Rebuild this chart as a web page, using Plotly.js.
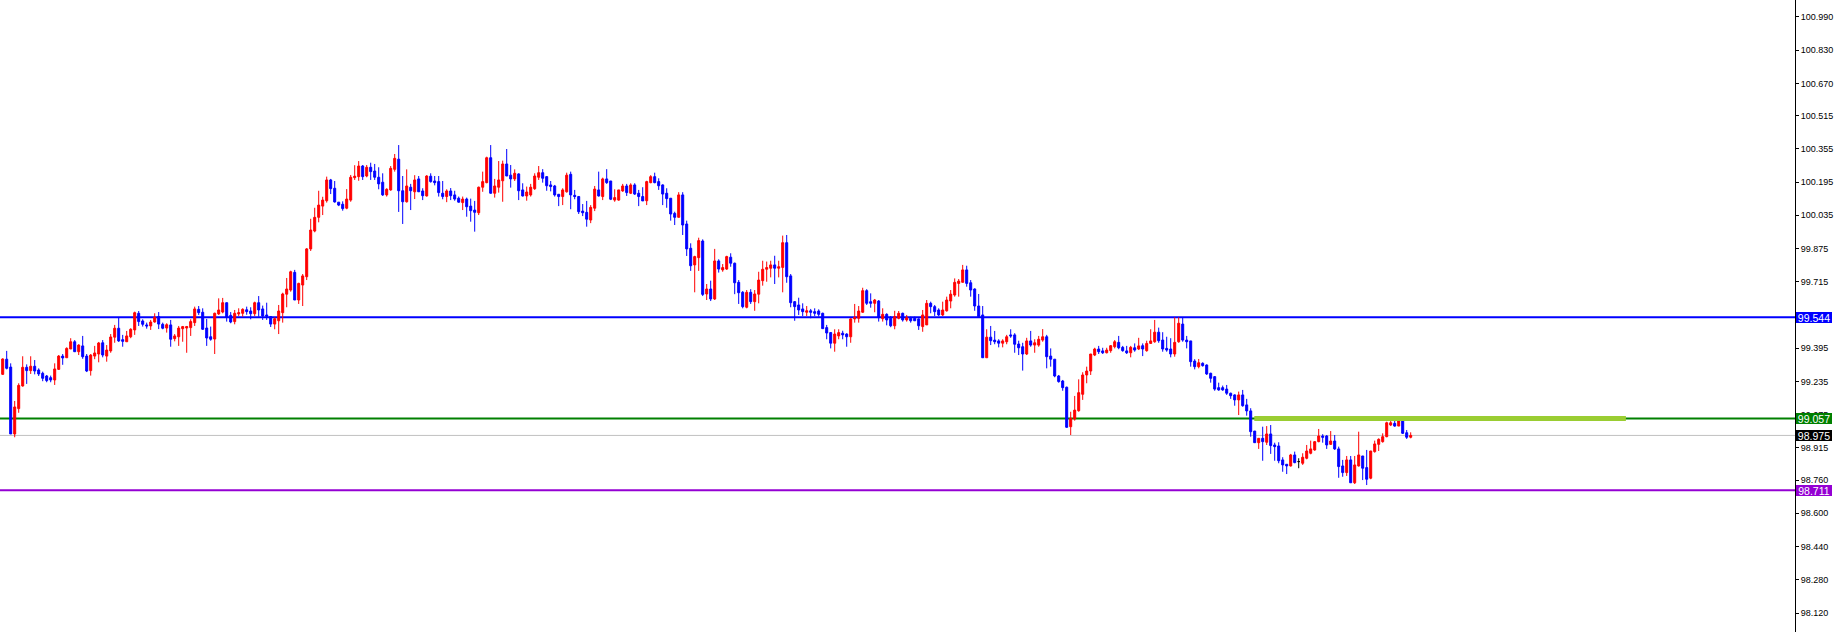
<!DOCTYPE html>
<html>
<head>
<meta charset="utf-8">
<script src="https://cdn.plot.ly/plotly-3.0.1.min.js"></script>
<style>
html,body{margin:0;padding:0;background:#ffffff;overflow:hidden}
#chart{width:1836px;height:632px}
</style>
</head>
<body>
<div id="chart"></div>
<script>
// ---- candle data (one value per bar, oldest first) ----
const openP = [
99.269,99.342,99.304,98.982,99.104,99.213,99.303,99.287,99.308,99.290,
99.274,99.261,99.253,99.242,99.293,99.357,99.349,99.391,99.426,99.378,
99.406,99.357,99.287,99.357,99.367,99.421,99.357,99.382,99.448,99.491,
99.436,99.426,99.450,99.483,99.563,99.526,99.507,99.502,99.521,99.547,
99.510,99.492,99.507,99.441,99.450,99.489,99.492,99.494,99.518,99.582,
99.568,99.492,99.450,99.439,99.560,99.569,99.614,99.553,99.523,99.560,
99.563,99.580,99.574,99.561,99.614,99.584,99.555,99.547,99.511,99.527,
99.566,99.655,99.675,99.760,99.627,99.699,99.739,99.873,99.959,100.025,
100.079,100.105,100.205,100.165,100.098,100.088,100.069,100.108,100.216,100.221,
100.272,100.224,100.266,100.248,100.218,100.194,100.133,100.157,100.256,100.305,
100.153,100.100,100.170,100.148,100.210,100.152,100.128,100.223,100.200,100.197,
100.141,100.125,100.152,100.133,100.117,100.096,100.113,100.079,100.060,100.047,
100.170,100.192,100.312,100.141,100.170,100.201,100.282,100.228,100.210,100.234,
100.157,100.128,100.133,100.163,100.218,100.240,100.221,100.181,100.176,100.136,
100.125,100.148,100.232,100.131,100.125,100.055,100.049,100.012,100.069,100.157,
100.125,100.210,100.200,100.108,100.108,100.152,100.176,100.141,100.181,100.141,
100.125,100.105,100.192,100.221,100.197,100.181,100.141,100.117,100.044,100.025,
100.133,99.993,99.876,99.796,99.831,99.911,99.656,99.680,99.632,99.815,
99.772,99.776,99.833,99.804,99.712,99.664,99.592,99.664,99.619,99.655,
99.720,99.775,99.780,99.796,99.780,99.784,99.903,99.743,99.619,99.603,
99.584,99.568,99.575,99.571,99.574,99.563,99.494,99.470,99.419,99.454,
99.467,99.463,99.450,99.536,99.539,99.568,99.672,99.619,99.611,99.622,
99.537,99.558,99.539,99.503,99.539,99.563,99.531,99.539,99.539,99.536,
99.499,99.507,99.611,99.595,99.579,99.555,99.575,99.622,99.651,99.707,
99.712,99.772,99.710,99.680,99.598,99.555,99.349,99.448,99.434,99.430,
99.419,99.426,99.459,99.459,99.415,99.402,99.367,99.430,99.410,99.410,
99.434,99.450,99.357,99.342,99.261,99.237,99.207,99.017,99.054,99.094,
99.173,99.266,99.285,99.362,99.391,99.382,99.373,99.383,99.402,99.423,
99.399,99.382,99.373,99.397,99.391,99.407,99.383,99.418,99.426,99.472,
99.434,99.394,99.391,99.367,99.426,99.511,99.434,99.430,99.333,99.306,
99.322,99.314,99.274,99.258,99.205,99.205,99.198,99.178,99.170,99.146,
99.170,99.122,99.093,98.996,98.940,98.961,98.942,98.982,98.929,98.924,
98.857,98.836,98.828,98.881,98.849,98.841,98.865,98.889,98.905,98.945,
98.972,98.972,98.932,98.948,98.910,98.828,98.796,98.857,98.747,98.828,
98.876,98.820,98.769,98.897,98.932,98.945,98.969,99.025,99.033,99.020,
99.049,98.988,98.966
];
const highP = [
99.346,99.382,99.322,99.141,99.226,99.356,99.317,99.356,99.338,99.298,
99.282,99.266,99.263,99.322,99.362,99.367,99.399,99.443,99.434,99.414,
99.454,99.367,99.367,99.406,99.425,99.434,99.410,99.463,99.507,99.544,
99.459,99.478,99.491,99.571,99.574,99.534,99.518,99.531,99.563,99.569,
99.518,99.515,99.531,99.463,99.502,99.502,99.502,99.534,99.595,99.598,
99.587,99.536,99.499,99.566,99.635,99.637,99.614,99.569,99.579,99.587,
99.587,99.595,99.592,99.619,99.646,99.600,99.614,99.550,99.544,99.603,
99.662,99.733,99.768,99.772,99.710,99.752,99.877,100.018,100.071,100.153,
100.124,100.221,100.210,100.200,100.098,100.102,100.161,100.229,100.276,100.296,
100.277,100.277,100.288,100.282,100.266,100.237,100.165,100.272,100.330,100.373,
100.224,100.256,100.186,100.228,100.224,100.165,100.228,100.237,100.224,100.224,
100.200,100.160,100.166,100.153,100.125,100.125,100.120,100.115,100.104,100.173,
100.245,100.317,100.373,100.210,100.296,100.298,100.354,100.277,100.256,100.237,
100.189,100.173,100.186,100.237,100.272,100.257,100.224,100.200,100.181,100.136,
100.165,100.240,100.245,100.157,100.128,100.089,100.104,100.084,100.176,100.245,
100.216,100.257,100.200,100.160,100.157,100.186,100.186,100.189,100.189,100.157,
100.170,100.201,100.228,100.240,100.213,100.184,100.165,100.117,100.052,100.146,
100.146,100.009,99.900,99.840,99.927,99.919,99.704,99.720,99.873,99.823,
99.800,99.840,99.852,99.807,99.723,99.670,99.675,99.679,99.675,99.763,
99.816,99.812,99.816,99.840,99.816,99.937,99.940,99.752,99.622,99.638,
99.611,99.598,99.584,99.587,99.582,99.566,99.507,99.472,99.486,99.486,
99.479,99.467,99.539,99.608,99.598,99.686,99.679,99.659,99.632,99.627,
99.587,99.563,99.550,99.575,99.574,99.566,99.555,99.547,99.547,99.539,
99.579,99.627,99.619,99.603,99.587,99.619,99.643,99.675,99.731,99.728,
99.796,99.792,99.723,99.683,99.656,99.598,99.486,99.502,99.478,99.438,
99.438,99.459,99.486,99.467,99.431,99.421,99.445,99.478,99.438,99.454,
99.487,99.459,99.394,99.342,99.266,99.242,99.210,99.089,99.165,99.245,
99.279,99.306,99.367,99.397,99.406,99.397,99.397,99.410,99.434,99.454,
99.406,99.406,99.406,99.418,99.445,99.418,99.431,99.486,99.531,99.494,
99.472,99.450,99.443,99.544,99.544,99.544,99.454,99.430,99.342,99.343,
99.327,99.317,99.277,99.261,99.229,99.215,99.218,99.181,99.173,99.186,
99.194,99.151,99.106,98.996,98.961,99.017,99.020,99.025,98.940,98.942,
98.870,98.836,98.886,98.897,98.865,98.889,98.929,98.950,98.948,99.006,
98.981,98.977,98.996,98.977,98.921,98.857,98.876,98.876,98.876,98.993,
98.876,98.905,98.900,98.950,98.961,98.985,99.041,99.046,99.059,99.057,
99.057,99.001,98.990
];
const lowP = [
99.266,99.293,98.982,98.966,99.084,99.210,99.223,99.271,99.269,99.261,
99.236,99.231,99.231,99.218,99.290,99.315,99.348,99.391,99.378,99.362,
99.344,99.280,99.263,99.342,99.327,99.351,99.330,99.373,99.421,99.425,
99.402,99.426,99.443,99.459,99.502,99.499,99.489,99.483,99.518,99.487,
99.486,99.470,99.402,99.428,99.406,99.426,99.373,99.454,99.502,99.555,
99.483,99.406,99.431,99.367,99.555,99.563,99.523,99.515,99.510,99.550,
99.547,99.556,99.534,99.550,99.547,99.531,99.531,99.497,99.486,99.463,
99.518,99.592,99.667,99.627,99.608,99.598,99.723,99.863,99.953,100.001,
100.036,100.096,100.137,100.096,100.079,100.057,100.064,100.100,100.205,100.201,
100.205,100.218,100.205,100.205,100.160,100.128,100.125,100.153,100.245,100.051,
99.993,100.096,100.060,100.113,100.147,100.108,100.125,100.192,100.179,100.125,
100.112,100.098,100.108,100.105,100.096,100.060,100.028,100.004,99.956,100.036,
100.148,100.189,100.139,100.120,100.144,100.100,100.224,100.168,100.200,100.108,
100.125,100.105,100.125,100.157,100.205,100.192,100.153,100.150,100.125,100.079,
100.084,100.144,100.064,100.112,100.041,100.031,99.980,99.997,100.055,100.125,
100.108,100.186,100.108,100.100,100.105,100.148,100.128,100.137,100.133,100.079,
100.104,100.084,100.189,100.189,100.157,100.084,100.071,100.009,99.988,100.025,
99.940,99.839,99.767,99.664,99.767,99.646,99.627,99.622,99.627,99.759,
99.763,99.772,99.787,99.655,99.608,99.587,99.587,99.608,99.575,99.611,
99.696,99.715,99.736,99.704,99.736,99.664,99.710,99.592,99.527,99.555,
99.550,99.550,99.539,99.550,99.547,99.489,99.438,99.394,99.378,99.438,
99.438,99.402,99.421,99.518,99.518,99.566,99.603,99.590,99.568,99.523,
99.523,99.505,99.496,99.486,99.534,99.523,99.523,99.518,99.527,99.483,
99.474,99.507,99.563,99.550,99.550,99.550,99.571,99.587,99.643,99.643,
99.712,99.691,99.643,99.575,99.547,99.349,99.349,99.410,99.414,99.399,
99.399,99.414,99.445,99.373,99.362,99.287,99.362,99.402,99.373,99.402,
99.426,99.298,99.306,99.255,99.229,99.190,99.012,98.977,99.046,99.089,
99.146,99.226,99.266,99.357,99.367,99.367,99.370,99.373,99.394,99.390,
99.378,99.367,99.351,99.378,99.386,99.357,99.378,99.418,99.421,99.421,
99.378,99.378,99.351,99.354,99.421,99.426,99.394,99.306,99.293,99.298,
99.306,99.266,99.229,99.190,99.190,99.190,99.170,99.151,99.118,99.073,
99.113,99.070,98.969,98.940,98.910,98.853,98.929,98.886,98.853,98.841,
98.800,98.789,98.825,98.841,98.817,98.833,98.860,98.884,98.901,98.942,
98.940,98.910,98.929,98.905,98.771,98.776,98.780,98.747,98.741,98.825,
98.760,98.736,98.764,98.892,98.900,98.940,98.966,99.020,99.017,99.020,
98.982,98.958,98.961
];
const closeP = [
99.343,99.298,98.982,99.112,99.216,99.303,99.287,99.308,99.285,99.271,
99.250,99.239,99.242,99.295,99.357,99.348,99.394,99.426,99.378,99.410,
99.354,99.285,99.362,99.372,99.420,99.362,99.386,99.449,99.491,99.430,
99.428,99.454,99.486,99.566,99.523,99.510,99.502,99.521,99.544,99.511,
99.491,99.508,99.438,99.454,99.492,99.499,99.499,99.523,99.584,99.566,
99.486,99.444,99.438,99.563,99.579,99.614,99.544,99.521,99.563,99.566,
99.582,99.571,99.561,99.614,99.579,99.550,99.549,99.511,99.537,99.574,
99.656,99.680,99.763,99.627,99.707,99.743,99.873,99.964,100.025,100.084,
100.108,100.205,100.163,100.099,100.084,100.067,100.113,100.218,100.223,100.272,
100.221,100.266,100.245,100.218,100.186,100.133,100.160,100.261,100.309,100.153,
100.100,100.176,100.153,100.205,100.148,100.129,100.224,100.197,100.192,100.144,
100.125,100.152,100.129,100.113,100.098,100.113,100.076,100.057,100.049,100.170,
100.197,100.312,100.141,100.176,100.205,100.282,100.224,100.210,100.237,100.153,
100.128,100.147,100.170,100.224,100.240,100.213,100.177,100.173,100.133,100.125,
100.157,100.228,100.133,100.125,100.052,100.047,100.016,100.073,100.161,100.128,
100.210,100.192,100.112,100.120,100.157,100.176,100.144,100.181,100.137,100.125,
100.104,100.197,100.221,100.192,100.177,100.137,100.115,100.041,100.025,100.133,
99.988,99.873,99.792,99.836,99.913,99.654,99.680,99.632,99.815,99.776,
99.783,99.836,99.804,99.710,99.662,99.595,99.664,99.619,99.656,99.723,
99.775,99.783,99.796,99.780,99.787,99.903,99.739,99.614,99.595,99.579,
99.571,99.575,99.568,99.563,99.558,99.489,99.468,99.419,99.463,99.470,
99.459,99.450,99.536,99.544,99.574,99.672,99.611,99.611,99.627,99.542,
99.558,99.531,99.503,99.547,99.563,99.531,99.542,99.527,99.527,99.503,
99.555,99.611,99.595,99.571,99.555,99.579,99.627,99.655,99.712,99.718,
99.772,99.707,99.675,99.598,99.547,99.349,99.448,99.431,99.426,99.419,
99.430,99.450,99.454,99.414,99.397,99.367,99.430,99.410,99.421,99.438,
99.450,99.354,99.342,99.261,99.234,99.205,99.014,99.057,99.097,99.181,
99.266,99.285,99.367,99.391,99.378,99.373,99.386,99.407,99.426,99.397,
99.383,99.373,99.399,99.386,99.406,99.391,99.418,99.430,99.472,99.431,
99.391,99.386,99.367,99.423,99.515,99.434,99.426,99.330,99.306,99.325,
99.311,99.271,99.250,99.198,99.194,99.194,99.178,99.166,99.146,99.170,
99.118,99.093,98.993,98.940,98.961,98.945,98.982,98.926,98.921,98.853,
98.833,98.828,98.881,98.844,98.849,98.870,98.900,98.910,98.945,98.972,
98.966,98.929,98.948,98.910,98.825,98.796,98.857,98.747,98.833,98.881,
98.817,98.764,98.900,98.934,98.956,98.969,99.036,99.036,99.020,99.046,
98.985,98.966,98.975
];

// ---- horizontal price levels ----
const levelPrices = [99.544, 99.057, 98.975, 98.711];

// ---- price-axis tick labels ----
const tickPrices = [100.990, 100.830, 100.670, 100.515, 100.355, 100.195, 100.035,
  99.875, 99.715, 99.555, 99.395, 99.235, 99.075, 98.915, 98.760, 98.600,
  98.440, 98.280, 98.120];

// ---- styles (kept apart from the data) ----
const levelLineColors = ['#0000ff', '#008000', '#c0c0c0', '#9400d3'];
const levelLineWidths = [2, 2, 1, 2];
const levelBoxColors  = ['#0000ff', '#008000', '#000000', '#9400d3'];
const zone = {from: 312.9, to: 405.8, price: 99.056, color: '#9acd32', width: 5};

const n = openP.length;
const idx = [...Array(n).keys()];
const regular = idx.filter(i => openP[i] !== closeP[i]);
const doji = idx.filter(i => openP[i] === closeP[i]);
const pick = (arr, ids) => ids.map(i => arr[i]);

const traces = [
  {
    type: 'candlestick',
    x: regular,
    open: pick(openP, regular), high: pick(highP, regular),
    low: pick(lowP, regular), close: pick(closeP, regular),
    increasing: {line: {color: '#ff0000', width: 1}, fillcolor: '#ff0000'},
    decreasing: {line: {color: '#0000ff', width: 1}, fillcolor: '#0000ff'},
    whiskerwidth: 0, hoverinfo: 'skip', showlegend: false
  },
  {
    type: 'candlestick',
    x: doji,
    open: pick(openP, doji), high: pick(highP, doji),
    low: pick(lowP, doji), close: pick(closeP, doji),
    increasing: {line: {color: '#000000', width: 1}, fillcolor: '#000000'},
    decreasing: {line: {color: '#000000', width: 1}, fillcolor: '#000000'},
    whiskerwidth: 0, hoverinfo: 'skip', showlegend: false
  }
];

// level lines sit behind the candles; the highlighted zone sits on top
const shapes = levelPrices.map((p, i) => ({
  type: 'line', xref: 'paper', yref: 'y', x0: 0, x1: 1, y0: p, y1: p,
  line: {color: levelLineColors[i], width: levelLineWidths[i]}, layer: 'below'
}));
shapes.push({
  type: 'line', xref: 'x', yref: 'y', x0: zone.from, x1: zone.to,
  y0: zone.price, y1: zone.price,
  line: {color: zone.color, width: zone.width}, layer: 'above'
});

const annotations = levelPrices.map((p, i) => ({
  xref: 'paper', yref: 'y', x: 1, y: p, xanchor: 'left', yanchor: 'middle',
  xshift: 1, text: p.toFixed(3), showarrow: false,
  font: {family: 'Liberation Sans, Arial, sans-serif', size: 10.5, color: '#ffffff'},
  bgcolor: levelBoxColors[i], borderpad: 1, borderwidth: 0,
  width: 34, height: 9, align: 'center'
}));

const layout = {
  width: 1836, height: 632,
  margin: {l: 0, r: 41, t: 0, b: 0, pad: 0},
  paper_bgcolor: '#ffffff', plot_bgcolor: '#ffffff',
  showlegend: false,
  boxgap: 0.5, boxgroupgap: 0,
  xaxis: {
    range: [-0.675, 448.075], visible: false, fixedrange: true,
    rangeslider: {visible: false}, showgrid: false, zeroline: false
  },
  yaxis: {
    side: 'right', range: [98.0285, 101.0714], fixedrange: true,
    showgrid: false, zeroline: false,
    showline: true, linecolor: '#000000', linewidth: 1,
    ticks: 'outside', ticklen: 3, tickwidth: 1, tickcolor: '#000000',
    tickvals: tickPrices, ticktext: tickPrices.map(v => v.toFixed(3)),
    tickfont: {family: 'Liberation Sans, Arial, sans-serif', size: 9, color: '#000000'}
  },
  shapes: shapes,
  annotations: annotations
};

Plotly.newPlot('chart', traces, layout, {staticPlot: true, displayModeBar: false});
</script>
</body>
</html>
